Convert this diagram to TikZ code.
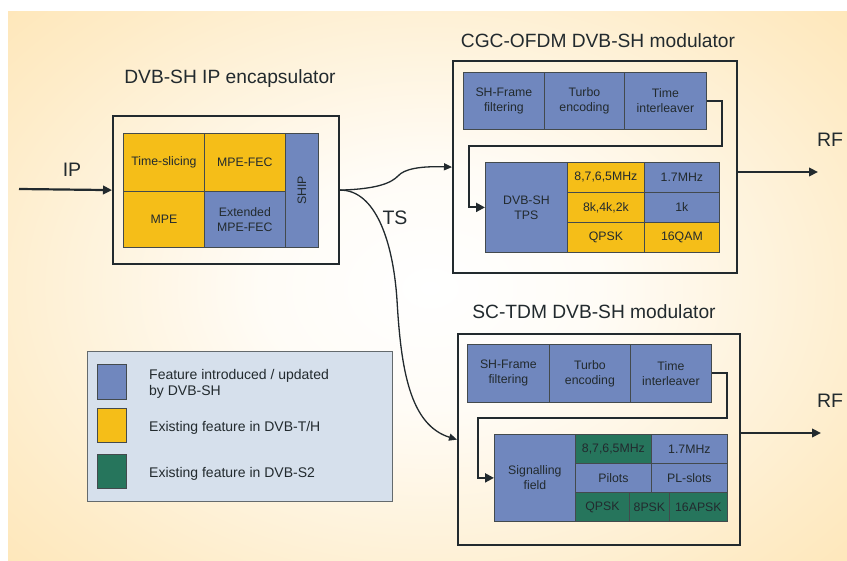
\documentclass[tikz,border=0pt]{standalone}
\usepackage{fontspec}
\setmainfont{Liberation Sans}
\usetikzlibrary{arrows.meta}
\definecolor{bgor}{HTML}{FDD992}
\definecolor{fblue}{HTML}{7087BE}
\definecolor{fyel}{HTML}{F5BE18}
\definecolor{fgrn}{HTML}{26755C}
\definecolor{legbg}{HTML}{D6E0EC}
\definecolor{ink}{HTML}{222A2E}
\pgfdeclareradialshading{glow}{\pgfpoint{0bp}{0bp}}{color(0bp)=(white); color(5bp)=(white!92!bgor); color(14bp)=(white!50!bgor); color(26bp)=(bgor); color(50bp)=(bgor)}
\begin{document}
\begin{tikzpicture}[x=1pt,y=-1pt,
  cell/.style={draw=ink!85, line width=0.8pt, inner sep=0pt, anchor=north west, align=center, text=ink, font=\fontsize{12.3}{15}\selectfont},
  bcell/.style={cell, fill=fblue},
  ycell/.style={cell, fill=fyel},
  gcell/.style={cell, fill=fgrn},
  outerbox/.style={draw=ink, line width=2.2pt, inner sep=0pt, anchor=north west},
  ttl/.style={text=ink, anchor=base, font=\fontsize{19.2}{23}\selectfont},
  lbl/.style={text=ink, anchor=base, font=\fontsize{19.5}{23}\selectfont},
  arr/.style={draw=ink, line width=2.2pt, -{Triangle[length=9pt,width=8.5pt]}},
  conn/.style={draw=ink, line width=2.1pt, -{Triangle[length=9pt,width=9pt]}},
  curv/.style={draw=ink, line width=1.3pt, -{Triangle[length=8pt,width=7pt]}},
  legsq/.style={draw=ink!85, line width=1pt, inner sep=0pt, anchor=north west, minimum width=29pt},
  legtxt/.style={text=ink, anchor=west, align=left, inner sep=0pt, font=\fontsize{14}{16}\selectfont}
]
\useasboundingbox (0,0) rectangle (847,561);
% background
\fill[bgor] (8,12) rectangle (847,561);
\begin{scope}
  \clip (8,12) rectangle (847,561);
  \shade[shading=glow] (430,288) ellipse [x radius=840pt, y radius=600pt];
\end{scope}

% ---------- encapsulator ----------
\node[ttl] (enct) at (230,84) {DVB-SH IP encapsulator};
\node[outerbox, minimum width=226pt, minimum height=148pt] (enc) at (112,115) {};
\node[ycell, minimum width=81pt, minimum height=58pt] (ts) at (123,133) {Time-slicing};
\node[ycell, minimum width=81pt, minimum height=58pt] (mf) at (204,133) {MPE-FEC};
\node[ycell, minimum width=81pt, minimum height=56pt] (mpe) at (123,191) {MPE};
\node[bcell, minimum width=81pt, minimum height=56pt] (emf) at (204,191) {Extended\\MPE-FEC};
\node[bcell, minimum width=33pt, minimum height=114pt] (ship) at (285,133) {\rotatebox{90}{SHIP}};

% ---------- CGC-OFDM modulator ----------
\node[ttl] (cgct) at (598,48) {CGC-OFDM DVB-SH modulator};
\node[outerbox, minimum width=284pt, minimum height=212pt] (cgc) at (452,60) {};
\node[bcell, minimum width=81pt, minimum height=57pt] (sf1) at (463,72) {SH-Frame\\filtering};
\node[bcell, minimum width=80pt, minimum height=57pt] (te1) at (544,72) {Turbo\\encoding};
\node[bcell, minimum width=82pt, minimum height=57pt] (ti1) at (624,72) {Time\\interleaver};
\node[bcell, minimum width=82pt, minimum height=90pt] (tps) at (485,162) {DVB-SH\\TPS};
\node[ycell, minimum width=77pt, minimum height=30pt] (c11) at (567,162) {8,7,6,5MHz};
\node[bcell, minimum width=75pt, minimum height=30pt] (c12) at (644,162) {1.7MHz};
\node[ycell, minimum width=77pt, minimum height=30pt] (c21) at (567,192) {8k,4k,2k};
\node[bcell, minimum width=75pt, minimum height=30pt] (c22) at (644,192) {1k};
\node[ycell, minimum width=77pt, minimum height=30pt] (c31) at (567,222) {QPSK};
\node[ycell, minimum width=75pt, minimum height=30pt] (c32) at (644,222) {16QAM};
\coordinate (k1) at (722,146);
\coordinate (k2) at (469,146);
\draw[conn] (ti1.east) -| (k1) -- (k2) |- (tps.west);

% ---------- SC-TDM modulator ----------
\node[ttl] (sct) at (594,319) {SC-TDM DVB-SH modulator};
\node[outerbox, minimum width=282pt, minimum height=211pt] (sc) at (457,333) {};
\node[bcell, minimum width=82pt, minimum height=58pt] (sf2) at (467,344) {SH-Frame\\filtering};
\node[bcell, minimum width=81pt, minimum height=58pt] (te2) at (549,344) {Turbo\\encoding};
\node[bcell, minimum width=81pt, minimum height=58pt] (ti2) at (630,344) {Time\\interleaver};
\node[bcell, minimum width=81pt, minimum height=87pt] (sig) at (494,434) {Signalling\\field};
\node[gcell, minimum width=76pt, minimum height=29pt] (d11) at (575,434) {8,7,6,5MHz};
\node[bcell, minimum width=76pt, minimum height=29pt] (d12) at (651,434) {1.7MHz};
\node[bcell, minimum width=76pt, minimum height=29pt] (d21) at (575,463) {Pilots};
\node[bcell, minimum width=76pt, minimum height=29pt] (d22) at (651,463) {PL-slots};
\node[gcell, minimum width=54pt, minimum height=29pt] (d31) at (575,492) {QPSK};
\node[gcell, minimum width=40pt, minimum height=29pt] (d32) at (629,492) {8PSK};
\node[gcell, minimum width=58pt, minimum height=29pt] (d33) at (669,492) {16APSK};
\coordinate (k3) at (727,418);
\coordinate (k4) at (478,418);
\draw[conn] (ti2.east) -| (k3) -- (k4) |- (sig.west);

% ---------- IP / RF / TS ----------
\coordinate (ipin) at (19,189);
\node[lbl] (ipl) at (72,177) {IP};
\draw[arr] (ipin) -- (enc.west);

\coordinate (rf1) at (818,172);
\node[lbl] (rf1l) at (830,147) {RF};
\draw[arr] (cgc.east |- rf1) -- (rf1);

\coordinate (rf2) at (821,433);
\node[lbl] (rf2l) at (830,408) {RF};
\draw[arr] (sc.east |- rf2) -- (rf2);

\node[lbl] (tsl) at (395,225) {TS};
\draw[curv] (enc.east) .. controls (380,189) and (392,182) .. (398,176)
  .. controls (404,169) and (420,166) .. (cgc.west);
\draw[curv] (enc.east) .. controls (375,190) and (393,240) .. (397,300)
  .. controls (401,370) and (410,425) .. (sc.west);

% ---------- legend ----------
\node[draw=ink!70, line width=1pt, fill=legbg, inner sep=0pt, anchor=north west, minimum width=305pt, minimum height=150pt] (leg) at (87,351) {};
\node[legsq, fill=fblue, minimum height=35pt] (sq1) at (97,364) {};
\node[legsq, fill=fyel, minimum height=34pt] (sq2) at (97,408) {};
\node[legsq, fill=fgrn, minimum height=34pt] (sq3) at (97,454) {};
\node[legtxt] (lt1) at (149,383.4) {Feature introduced / updated\\by DVB-SH};
\node[legtxt] (lt2) at (149,427.4) {Existing feature in DVB-T/H};
\node[legtxt] (lt3) at (149,473.4) {Existing feature in DVB-S2};
\end{tikzpicture}
\end{document}
